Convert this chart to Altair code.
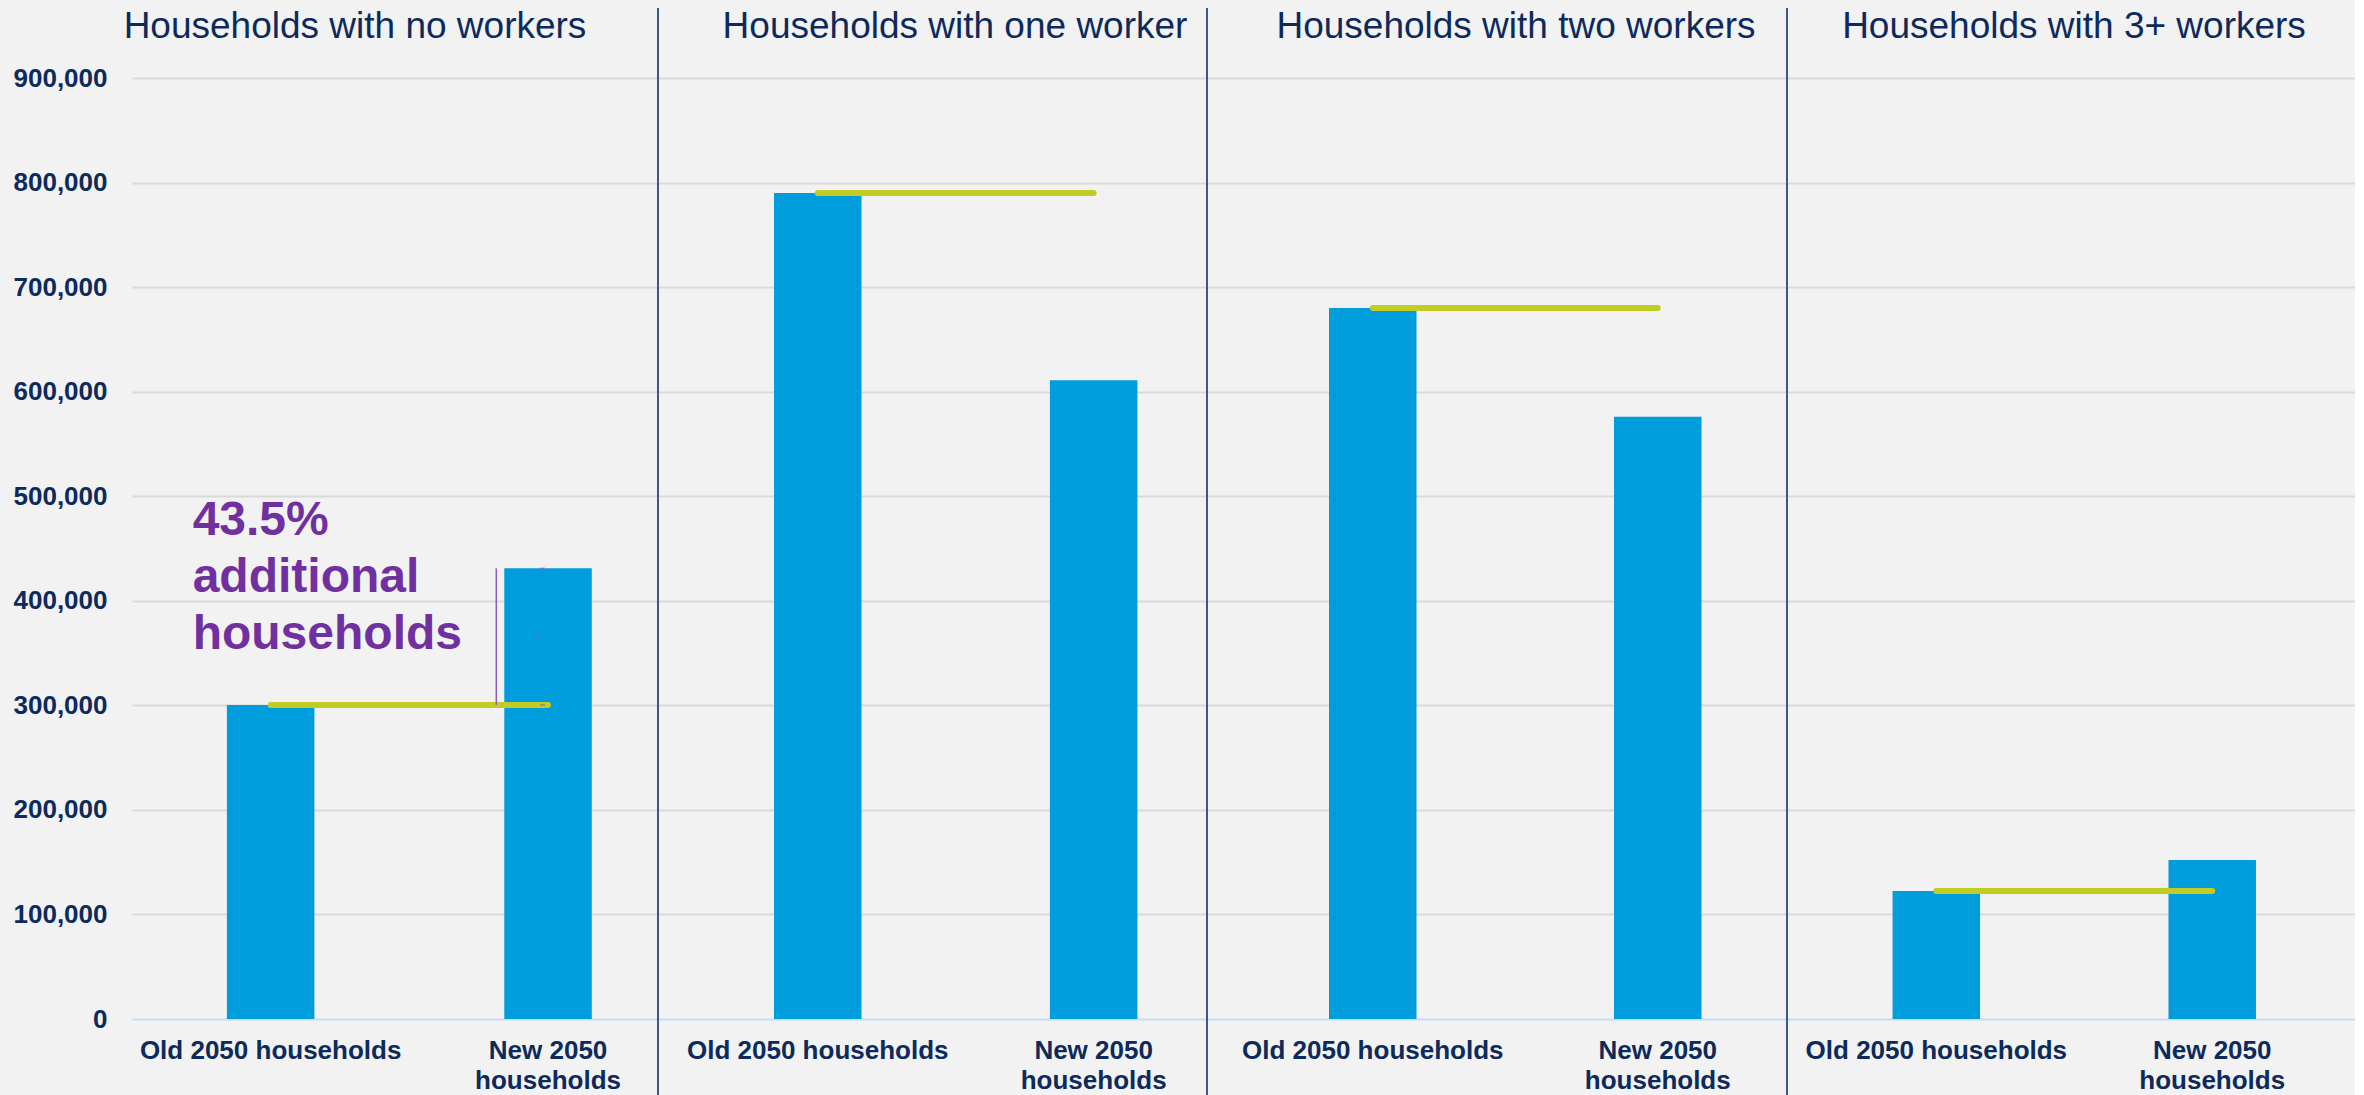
import altair as alt
import pandas as pd

# ---------------- data ----------------
panel_titles = [
    "Households with no workers",
    "Households with one worker",
    "Households with two workers",
    "Households with 3+ workers",
]
scenarios = ["Old 2050 households", "New 2050 households"]
old_values = [300400, 790000, 680000, 122500]
new_values = [431000, 611000, 576000, 152000]
y_ticks = [0, 100000, 200000, 300000, 400000, 500000, 600000, 700000, 800000, 900000]
annotation_lines = [f"{(new_values[0] / old_values[0] - 1) * 100:.1f}%", "additional", "households"]

# ---------------- styling / layout ----------------
FONT = "Liberation Sans"
NAVY = "#0c2a5b"
BLUE = "#009ddc"
GREEN = "#c2cd23"
PURPLE = "#7030a0"
BRACE = "#8a5cc0"
DIVIDER = "#3b5888"
BG = "#f2f2f2"
GRID = "#d9d9d9"
ZERO = "#c8dcf4"

panel_widths = [526, 549, 580, 568]
pad_inner = [0.6846, 0.6829, 0.693, 0.6829]
pad_outer = [0.2904, 0.3364, 0.364, 0.3708]
band_align = [0.589, 0.625, 0.588, 0.516]
title_x = [223, 297, 309, 287]
PLOT_H = 941

label_expr = ("datum.label == 'New 2050 households' ? ['New 2050', 'households'] : datum.label")


def make_panel(i):
    df = pd.DataFrame({"scenario": scenarios, "value": [old_values[i], new_values[i]]})
    xscale = alt.Scale(domain=scenarios, paddingInner=pad_inner[i],
                       paddingOuter=pad_outer[i], align=band_align[i])
    xaxis = alt.Axis(title=None, labelAngle=0, ticks=False, domain=False,
                     labelFont=FONT, labelFontSize=26, labelFontWeight="bold",
                     labelColor=NAVY, labelPadding=18, labelLineHeight=30,
                     labelLimit=0, labelExpr=label_expr, grid=False)
    yaxis = alt.Axis(title=None, values=y_ticks, format=",d", ticks=False, domain=False,
                     labels=(i == 0), labelFont=FONT, labelFontSize=26,
                     labelFontWeight="bold", labelColor=NAVY, labelPadding=25,
                     grid=True, gridWidth=2,
                     gridColor={"expr": f"datum.value === 0 ? '{ZERO}' : '{GRID}'"})
    yscale = alt.Scale(domain=[0, 900000], nice=False, zero=True)

    bars = alt.Chart(df).mark_bar(color=BLUE).encode(
        x=alt.X("scenario:N", scale=xscale, sort=scenarios, axis=xaxis),
        y=alt.Y("value:Q", scale=yscale, axis=yaxis),
    )

    ref = pd.DataFrame({"start": [scenarios[0]], "end": [scenarios[1]],
                        "value": [old_values[i]]})
    ref_line = alt.Chart(ref).mark_rule(color=GREEN, strokeWidth=6, strokeCap="round").encode(
        x=alt.X("start:N", scale=xscale, sort=scenarios, axis=xaxis),
        x2="end:N",
        y=alt.Y("value:Q", scale=yscale, axis=yaxis),
    )

    title_df = pd.DataFrame({"title": [panel_titles[i]]})
    title = alt.Chart(title_df).mark_text(
        font=FONT, fontSize=37, color=NAVY, align="center", baseline="alphabetic",
    ).encode(x=alt.value(title_x[i]), y=alt.value(-40), text="title:N")

    layers = [bars, ref_line, title]

    if i == 0:
        brace_df = pd.DataFrame({"scenario": [scenarios[1]], "low": [old_values[0]],
                                 "high": [new_values[0]],
                                 "mid": [(old_values[0] + new_values[0]) / 2]})
        bx = alt.X("scenario:N", scale=xscale, sort=scenarios, axis=xaxis, bandPosition=0)
        brace_v = alt.Chart(brace_df).mark_rule(color=BRACE, strokeWidth=1.5, xOffset=-8).encode(
            x=bx, y=alt.Y("low:Q", scale=yscale, axis=yaxis), y2="high:Q")
        hook_lo = alt.Chart(brace_df).mark_tick(color=BRACE, thickness=1.5, size=5,
                                                xOffset=-5.5, orient="horizontal").encode(
            x=bx, y=alt.Y("low:Q", scale=yscale, axis=yaxis))
        hook_hi = alt.Chart(brace_df).mark_tick(color=BRACE, thickness=1.5, size=5,
                                                xOffset=-5.5, orient="horizontal").encode(
            x=bx, y=alt.Y("high:Q", scale=yscale, axis=yaxis))
        hook_mid = alt.Chart(brace_df).mark_tick(color=BRACE, thickness=1.5, size=5,
                                                 xOffset=-10.5, orient="horizontal").encode(
            x=bx, y=alt.Y("mid:Q", scale=yscale, axis=yaxis))

        ann_df = pd.DataFrame({"scenario": [scenarios[0]], "value": [new_values[0]]})
        ann = alt.Chart(ann_df).mark_text(
            align="left", baseline="alphabetic", dx=-78, dy=-33, font=FONT,
            fontSize=48, fontWeight="bold", color=PURPLE, lineHeight=57,
        ).encode(
            x=alt.X("scenario:N", scale=xscale, sort=scenarios, axis=xaxis),
            y=alt.Y("value:Q", scale=yscale, axis=yaxis),
            text=alt.value(annotation_lines),
        )
        layers += [brace_v, hook_lo, hook_hi, hook_mid, ann]
    else:
        div_df = pd.DataFrame({"k": [0]})
        divider = alt.Chart(div_df).mark_rule(color=DIVIDER, strokeWidth=2).encode(
            x=alt.value(0), y=alt.value(-70), y2=alt.value(PLOT_H + 77))
        layers.append(divider)

    return alt.layer(*layers).properties(width=panel_widths[i], height=PLOT_H)


chart = alt.hconcat(*[make_panel(i) for i in range(4)], spacing=0, bounds="flush").configure(
    background=BG,
    padding={"left": 13, "top": 7, "right": 0, "bottom": 0},
).configure_view(stroke=None)

chart.save("out.html", embed_options={"renderer": "svg", "actions": False})
